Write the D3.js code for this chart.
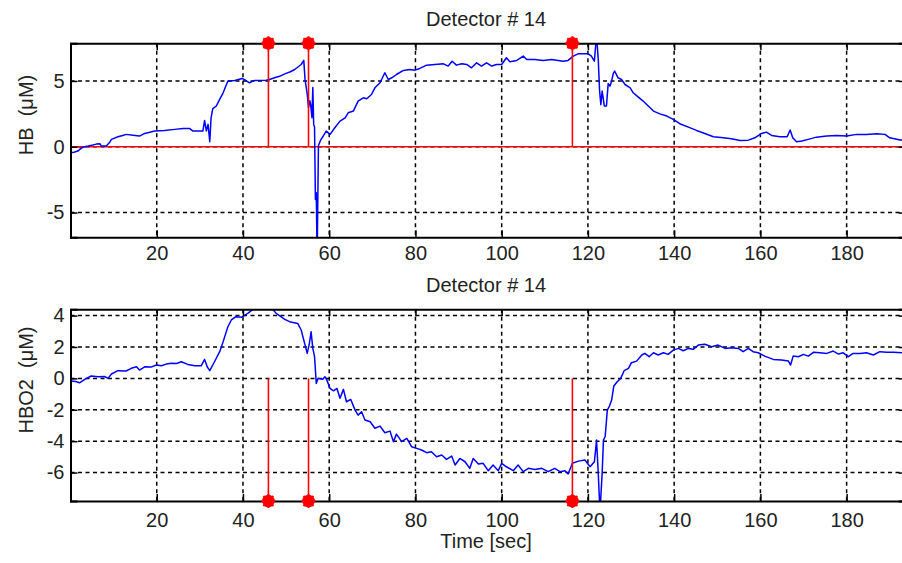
<!DOCTYPE html>
<html>
<head>
<meta charset="utf-8">
<script src="https://cdn.jsdelivr.net/npm/d3@7"></script>
<style type="text/css">
  body{
    background: white;
    margin: 0px;
  }
  svg text{
    font-family: 'Liberation Sans', Arial, sans-serif;
    font-size: 20px;
    fill: #222;
  }
</style>
</head>
<body>
<svg id="chart" width="902" height="563"></svg>
<script>

// time axis, shared by both panels
var xMin = 0, xMax = 193.7;
var xTicks = [20, 40, 60, 80, 100, 120, 140, 160, 180];

// marker times (sec)
var stimTimes = [45.9, 55.2, 116.4];

// panel 1 : HB
var hbLimits = [-6.88, 7.86];
var hbTicks = [-5, 0, 5];
var hb = [[0,-0.45],[0.8,-0.42],[1.7,-0.33],[2.5,-0.1],[3.3,0.0],[4.1,0.05],[5.2,0.13],[6.0,0.2],[6.8,0.23],[7.2,0.05],[8.3,0.05],[9.0,0.3],[9.5,0.56],[11,0.76],[12.1,0.85],[12.9,0.94],[14.5,0.88],[16,0.81],[17.2,1.01],[18.4,1.1],[19.5,1.19],[21.8,1.24],[24.2,1.32],[26.1,1.39],[27.6,1.39],[28.4,1.19],[30.7,1.19],[31.1,2.0],[31.5,1.2],[31.9,1.7],[32.3,0.38],[32.6,2.2],[33.0,2.9],[33.8,3.09],[34.6,3.6],[35.4,4.1],[36.0,4.6],[36.5,5.0],[38.1,5.04],[39.8,5.19],[40.6,5.05],[41.5,4.86],[42.7,5.04],[45.4,5.06],[46.5,5.15],[47.3,5.24],[48.5,5.35],[49.7,5.54],[51,5.7],[52,5.87],[53.5,6.25],[54.1,6.56],[54.4,5.1],[54.9,4.0],[55.2,2.96],[55.5,3.5],[55.7,3.2],[56.0,2.2],[56.2,4.5],[56.4,1.7],[56.6,1.5],[56.8,-4.0],[57.0,-3.5],[57.2,-8.5],[57.5,0.1],[58.0,0.5],[58.6,0.8],[59.3,1.19],[60.2,0.94],[61.3,1.44],[62.5,1.95],[63.7,2.2],[64.4,2.58],[65.6,2.71],[66.7,3.47],[67.9,3.72],[68.7,3.65],[69.8,3.97],[70.6,4.48],[71.8,4.86],[72.9,5.62],[73.7,5.11],[74.5,5.24],[75.6,5.49],[77.2,5.8],[78.7,5.87],[79.9,5.82],[81,5.95],[82.6,6.2],[84.5,6.25],[86.5,6.3],[87.6,6.13],[88.5,6.5],[89.5,6.2],[90.7,6.3],[91.9,6.25],[93,6.0],[94.2,6.38],[95.3,6.13],[96.5,6.38],[97.7,6.13],[98.8,6.25],[100,6.25],[101.1,6.76],[101.9,6.46],[103.5,6.56],[105,6.89],[105.8,6.63],[107.7,6.63],[109.6,6.56],[111.6,6.63],[113.1,6.56],[114.3,6.5],[115.4,6.56],[116.6,6.89],[117.7,7.06],[120.1,7.06],[120.8,6.89],[121.5,6.5],[122.0,8.5],[122.4,6.6],[122.7,4.3],[123.0,3.2],[123.3,4.23],[123.8,3.1],[124.3,3.1],[124.7,4.8],[125.1,4.6],[125.5,5.0],[125.9,5.6],[126.2,5.75],[127,5.24],[127.8,5.11],[128.6,4.73],[129.8,4.48],[130.5,4.1],[131.7,3.77],[132.8,3.47],[134,3.09],[135.2,2.71],[136.7,2.5],[138.3,2.33],[139.8,2.08],[141.3,1.75],[143.3,1.49],[145.2,1.24],[147.1,1.01],[149.1,0.76],[151.4,0.68],[153.3,0.61],[155.3,0.48],[157.2,0.5],[158.7,0.68],[160.3,1.01],[161.4,1.11],[162.6,0.86],[164.5,0.76],[166.2,0.76],[166.9,1.27],[167.5,0.68],[168.4,0.38],[169.6,0.43],[171.1,0.56],[173,0.73],[175.4,0.81],[177.7,0.86],[180,0.81],[182.3,0.94],[184.6,0.94],[187,0.99],[188.9,0.94],[190,0.68],[192.4,0.51],[193.7,0.5]];

// panel 2 : HBO2
var hbo2Limits = [-7.81, 4.4];
var hbo2Ticks = [-6, -4, -2, 0, 2, 4];
var hbo2 = [[0,-0.17],[1.2,-0.2],[2.1,-0.28],[3.3,-0.06],[4.8,0.15],[6.4,0.11],[7.9,0.12],[8.7,0.0],[9.5,0.28],[11,0.49],[12.9,0.47],[14.1,0.64],[15.3,0.74],[16,0.53],[17.2,0.74],[18.7,0.72],[19.9,0.85],[21.1,0.8],[22.2,0.91],[23.4,0.96],[24.6,0.95],[25.7,1.06],[27.2,0.89],[28.8,0.81],[30.3,0.8],[31.1,1.21],[31.7,0.74],[32.3,0.49],[33.4,1.06],[34.6,1.7],[35.4,2.34],[36.5,3.29],[37.3,3.72],[38.4,3.93],[39.6,3.89],[41.1,4.14],[42.3,4.39],[43.0,4.5],[44.2,4.55],[46.6,4.5],[47.7,4.14],[49.7,3.76],[50.8,3.61],[52.7,3.5],[53.5,3.08],[54.3,2.23],[54.9,1.59],[55.4,2.23],[55.8,2.97],[56.2,1.91],[56.6,1.38],[57.0,-0.32],[57.4,0.0],[58.5,-0.06],[59.0,0.1],[59.3,0.0],[60.2,-0.64],[61,-0.79],[61.8,-0.64],[62.5,-1.27],[63.3,-0.7],[64,-1.49],[65,-1.34],[66,-2.02],[66.7,-2.34],[67.5,-2.13],[68.3,-2.65],[69.5,-2.76],[70.6,-3.18],[71.8,-3.04],[72.9,-3.46],[74.1,-3.36],[74.9,-4.03],[75.6,-3.55],[76.8,-4.03],[78,-3.82],[79.1,-4.35],[80.3,-4.46],[81.4,-4.56],[82.6,-4.73],[83.7,-4.67],[84.9,-4.99],[86.1,-4.88],[87.2,-5.16],[88.4,-4.95],[89.2,-5.52],[90.3,-5.1],[91.5,-5.31],[92.6,-5.73],[93.4,-5.1],[94.6,-5.46],[95.7,-5.41],[96.9,-5.88],[98,-5.52],[99.2,-5.88],[100,-5.41],[101.1,-5.63],[102.7,-5.88],[103.8,-5.52],[105,-5.94],[106.2,-5.73],[107.7,-5.8],[109.3,-5.73],[110.8,-5.94],[112.3,-5.73],[113.5,-5.94],[114.7,-5.88],[115.4,-6.09],[116.4,-5.41],[117.8,-5.27],[119.3,-5.2],[120.5,-5.63],[121.5,-5.31],[122.0,-3.93],[122.4,-6.05],[122.8,-8.5],[123.3,-6.05],[123.6,-3.93],[124.0,-3.7],[124.5,-2.02],[125.0,-1.76],[125.5,-1.38],[126.0,-0.49],[126.8,-0.21],[127.6,0.0],[128.4,0.49],[129.4,0.64],[130.1,1.0],[131.3,1.1],[132.5,1.49],[133.2,1.59],[134.2,1.38],[135.2,1.63],[136.3,1.49],[137.5,1.63],[138.6,1.53],[139.8,1.8],[141,1.91],[142.1,1.76],[143.3,1.91],[144.4,1.85],[145.6,2.12],[147.1,2.17],[148.7,2.02],[150.2,2.12],[151.8,1.91],[153.3,1.95],[154.9,1.91],[156,1.7],[157.2,1.91],[158.3,1.7],[159.5,1.63],[161,1.42],[163,1.21],[164.9,1.17],[166.5,1.1],[167,0.85],[167.6,1.42],[168.8,1.38],[170,1.53],[171.1,1.42],[172.3,1.66],[173.8,1.63],[175.4,1.59],[176.9,1.74],[178.1,1.55],[179.2,1.63],[180.4,1.38],[181.5,1.59],[183.1,1.59],[184.6,1.63],[186.2,1.49],[187.7,1.7],[189.3,1.66],[190.8,1.66],[193.7,1.63]];


var svg = d3.select('#chart');
var left = 70.5, right = 905.7;

var x = d3.scaleLinear().domain([xMin, xMax]).range([left, right]);

// plain hyphen for negative tick labels
var fmt = function(d) { return String(d); };

function panel(id, top, bottom, limits, ticks, data, stemsUp, zeroLine, title, ylabel, ylabelY, xPad) {

  var y = d3.scaleLinear().domain(limits).range([bottom, top]);
  var g = svg.append('g').attr('id', id);

  g.append('clipPath').attr('id', 'clip-' + id)
    .append('rect')
    .attr('x', left).attr('y', top)
    .attr('width', right - left).attr('height', bottom - top);

  // dashed grid
  var grid = g.append('g')
    .attr('stroke', '#000')
    .attr('stroke-width', 1.5)
    .attr('stroke-dasharray', '4,3.5');

  grid.selectAll('.vgrid').data(xTicks).enter()
    .append('line')
    .attr('x1', function(d) { return x(d); })
    .attr('x2', function(d) { return x(d); })
    .attr('y1', top).attr('y2', bottom);

  grid.selectAll('.hgrid').data(ticks).enter()
    .append('line')
    .attr('x1', left).attr('x2', right)
    .attr('y1', function(d) { return y(d); })
    .attr('y2', function(d) { return y(d); });

  var plot = g.append('g').attr('clip-path', 'url(#clip-' + id + ')');

  if (zeroLine) {
    plot.append('line')
      .attr('x1', left).attr('x2', right)
      .attr('y1', y(0)).attr('y2', y(0))
      .attr('stroke', '#ff0000')
      .attr('stroke-width', 1.5);
  }

  var line = d3.line()
    .x(function(d) { return x(d[0]); })
    .y(function(d) { return y(d[1]); });

  plot.append('path')
    .datum(data)
    .attr('d', line)
    .attr('fill', 'none')
    .attr('stroke', '#0000ff')
    .attr('stroke-width', 1.5)
    .attr('stroke-linejoin', 'round');

  // stems from zero to the axis limit
  var stemEnd = stemsUp ? limits[1] : limits[0];

  g.selectAll('.stem').data(stimTimes).enter()
    .append('line')
    .attr('x1', function(d) { return x(d); })
    .attr('x2', function(d) { return x(d); })
    .attr('y1', y(0))
    .attr('y2', y(stemEnd))
    .attr('stroke', '#ff0000')
    .attr('stroke-width', 1.6);

  // axes: box, inward ticks, tick labels
  var xAxisB = d3.axisBottom(x).tickValues(xTicks).tickSize(-7).tickPadding(xPad);
  var xAxisT = d3.axisTop(x).tickValues(xTicks).tickSize(-7).tickFormat('');
  var yAxisL = d3.axisLeft(y).tickValues(ticks).tickSize(-7).tickPadding(6).tickFormat(fmt);
  var yAxisR = d3.axisRight(y).tickValues(ticks).tickSize(-7).tickFormat('');

  g.append('g').attr('transform', 'translate(0,' + bottom + ')').call(xAxisB);
  g.append('g').attr('transform', 'translate(0,' + top + ')').call(xAxisT);
  g.append('g').attr('transform', 'translate(' + left + ',0)').call(yAxisL);
  g.append('g').attr('transform', 'translate(' + right + ',0)').call(yAxisR);

  g.selectAll('.domain').attr('stroke', '#000').attr('stroke-width', 2);
  g.selectAll('.tick line').attr('stroke', '#000').attr('stroke-width', 1.5);
  g.selectAll('.tick text')
    .attr('fill', '#222')
    .style('font-size', '20px')
    .style('font-family', "'Liberation Sans', Arial, sans-serif");

  // stem heads: filled circle with a short star on top
  var heads = g.selectAll('.head').data(stimTimes).enter()
    .append('g')
    .attr('transform', function(d) { return 'translate(' + x(d) + ',' + y(stemEnd) + ')'; });

  heads.append('circle')
    .attr('r', 6.3)
    .attr('fill', '#ff0000');

  heads.append('path')
    .attr('d', 'M-7,0H7M0,-7V7M-5,-5L5,5M-5,5L5,-5')
    .attr('stroke', '#ff0000')
    .attr('stroke-width', 2);

  g.append('text')
    .attr('x', (left + right) / 2 - 2)
    .attr('y', top - 17)
    .attr('text-anchor', 'middle')
    .text(title);

  g.append('text')
    .attr('transform', 'translate(33,' + ylabelY + ') rotate(-90)')
    .attr('text-anchor', 'middle')
    .text(ylabel);
}

panel('hb', 43.3, 237.3, hbLimits, hbTicks, hb, true, true, 'Detector # 14', 'HB\u00a0\u00a0(\u03bcM)', 115, 8.5);
panel('hbo2', 309.3, 501, hbo2Limits, hbo2Ticks, hbo2, false, false, 'Detector # 14', 'HBO2\u00a0\u00a0(\u03bcM)', 380, 11.5);

svg.append('text')
  .attr('x', 486)
  .attr('y', 548)
  .attr('text-anchor', 'middle')
  .text('Time [sec]');

</script>
</body>
</html>
